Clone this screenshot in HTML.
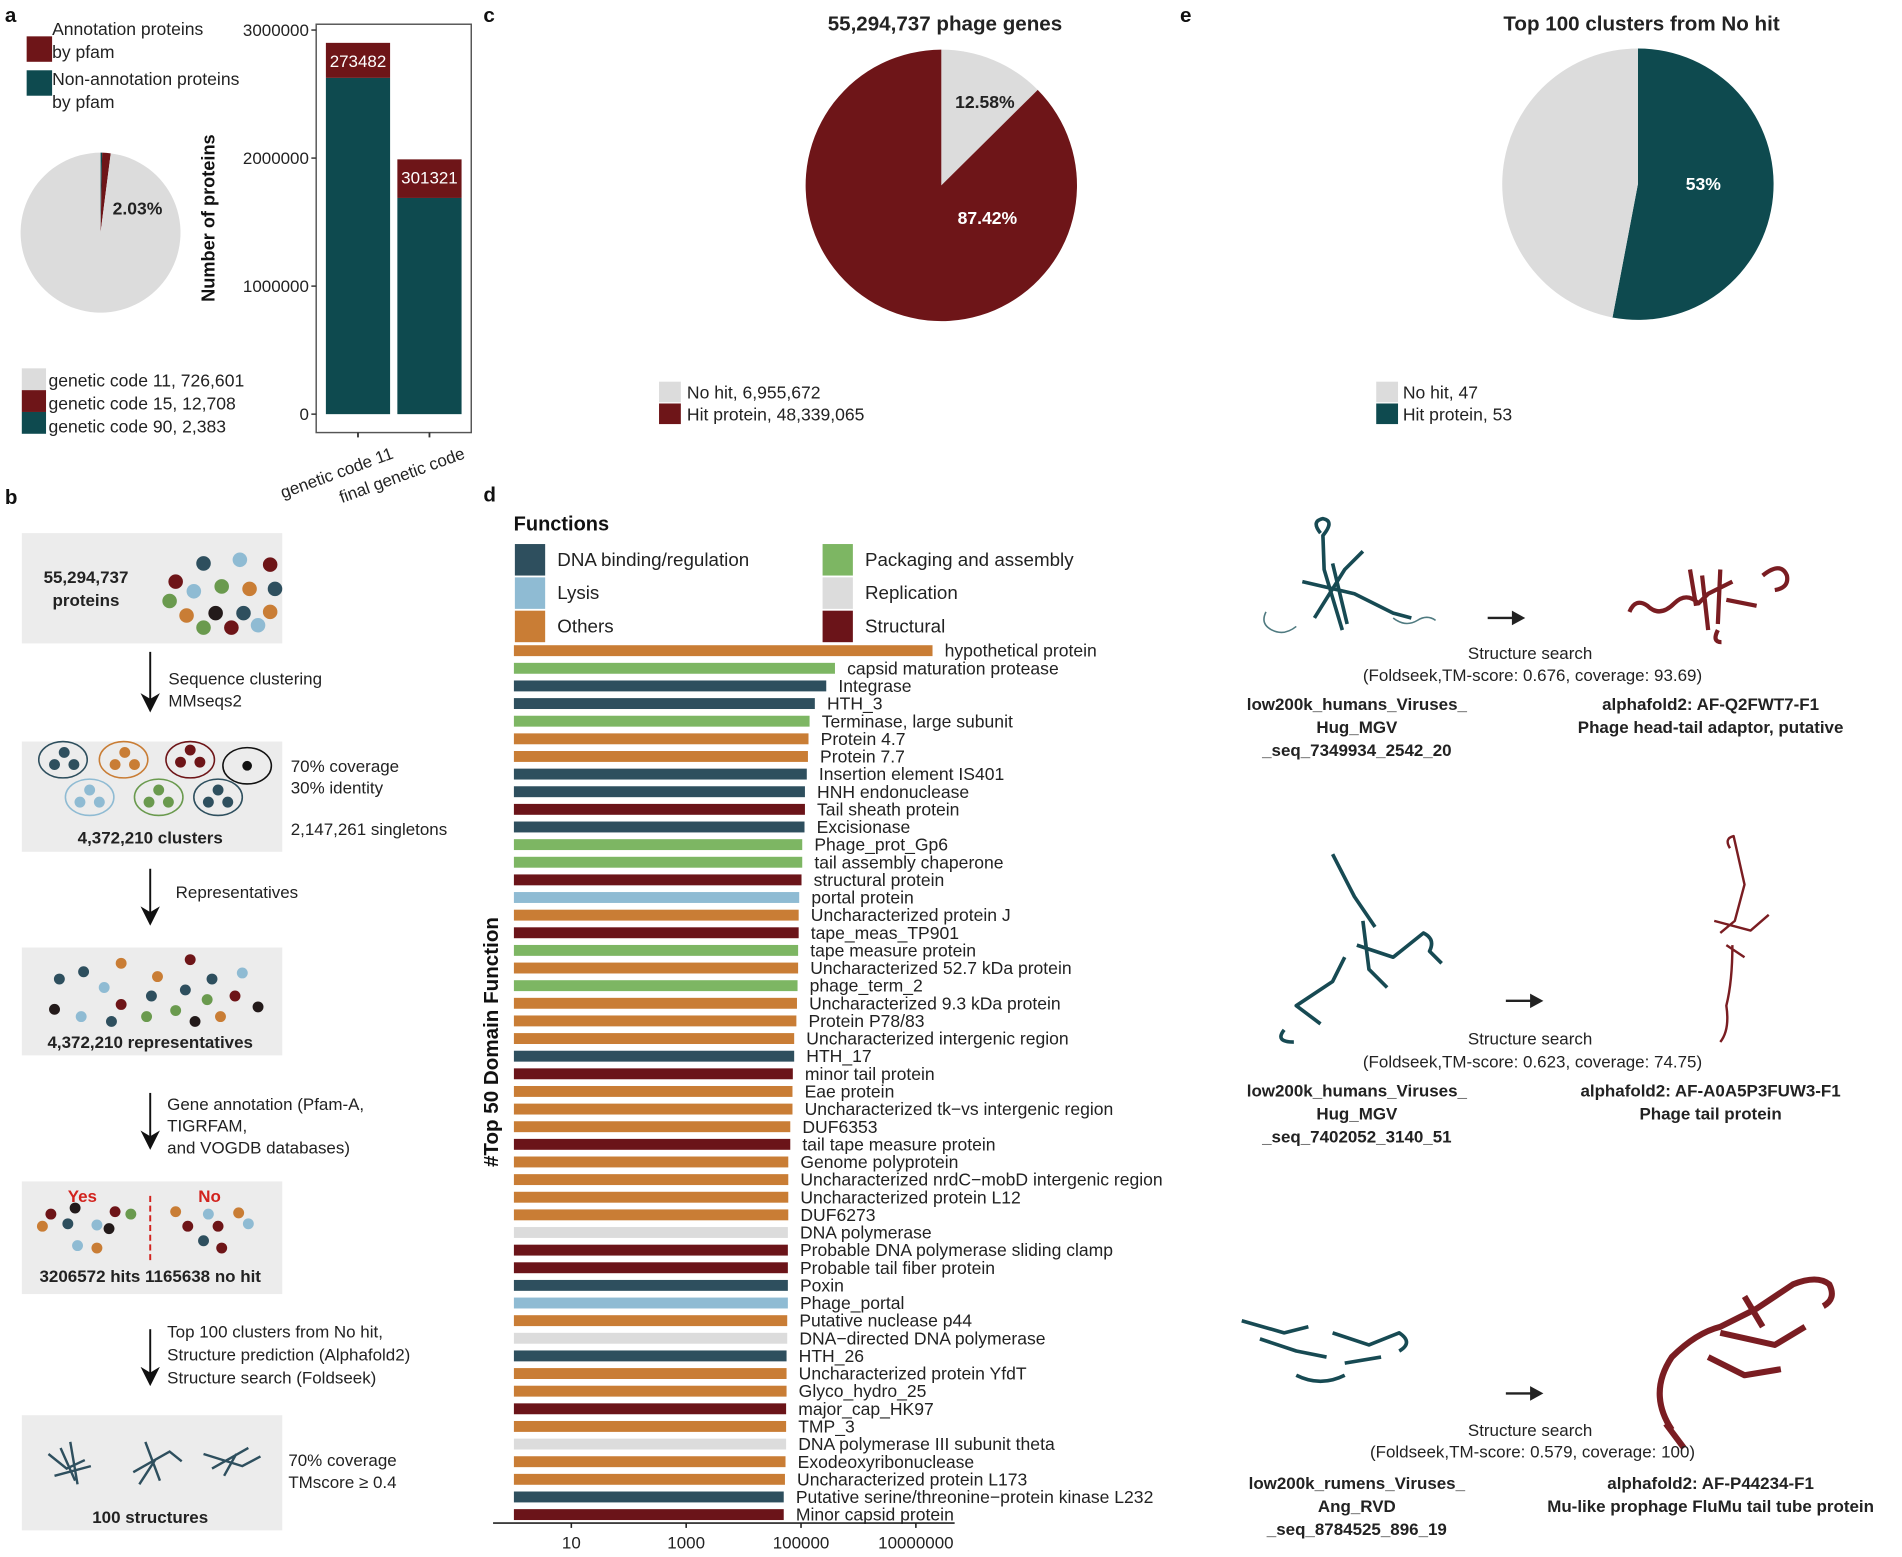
<!DOCTYPE html>
<html><head><meta charset="utf-8">
<style>
html,body{margin:0;padding:0;background:#fff;}
svg{display:block;font-family:"Liberation Sans",sans-serif;}
.n{font-family:"Liberation Sans Narrow","Liberation Sans",sans-serif;}
</style></head>
<body>
<svg id="fig" width="1902" height="1557" viewBox="0 0 1570 1285" preserveAspectRatio="none">
<rect width="1570" height="1285" fill="#fff"/>
<g font-weight="bold" font-size="17" fill="#111">
<text x="4" y="18">a</text>
<text x="4" y="416">b</text>
<text x="399" y="18">c</text>
<text x="399" y="414">d</text>
<text x="974" y="18">e</text>
</g>
<!-- panel a legends -->
<g font-size="14.5" fill="#222">
<rect x="22" y="30" width="21" height="21" fill="#6e1518"/>
<text x="43" y="29">Annotation proteins</text><text x="43" y="48">by pfam</text>
<rect x="22" y="78" width="21" height="21" fill="#0e4a4f" transform="translate(0,-20)"/>
<text x="43" y="70">Non-annotation proteins</text><text x="43" y="89">by pfam</text>
</g>
<g id="pieA"></g>
<text x="93" y="177" font-size="14.5" font-weight="bold" fill="#222">2.03%</text>
<g font-size="14.5" fill="#222">
<rect x="18" y="304" width="20" height="18" fill="#dcdcdc"/><text x="40" y="319">genetic code 11, 726,601</text>
<rect x="18" y="322" width="20" height="18" fill="#6e1518"/><text x="40" y="338">genetic code 15, 12,708</text>
<rect x="18" y="340" width="20" height="18" fill="#0e4a4f"/><text x="40" y="357">genetic code 90, 2,383</text>
</g>
<g id="barA"></g>
<text transform="translate(177,180) rotate(-90)" text-anchor="middle" font-size="15" font-weight="bold" fill="#111">Number of proteins</text>
<!-- panel c -->
<text x="780" y="25" text-anchor="middle" font-size="17" font-weight="bold" fill="#222">55,294,737 phage genes</text>
<g id="pieC"></g>
<g font-size="14.5" fill="#222">
<rect x="544" y="315" width="18" height="17" fill="#dcdcdc"/><text x="567" y="329">No hit, 6,955,672</text>
<rect x="544" y="333" width="18" height="17" fill="#6e1518"/><text x="567" y="347">Hit protein, 48,339,065</text>
</g>
<!-- panel e -->
<text x="1355" y="25" text-anchor="middle" font-size="17" font-weight="bold" fill="#222">Top 100 clusters from No hit</text>
<g id="pieE"></g>
<g font-size="14.5" fill="#222">
<rect x="1136" y="315" width="18" height="17" fill="#dcdcdc"/><text x="1158" y="329">No hit, 47</text>
<rect x="1136" y="333" width="18" height="17" fill="#0e4a4f"/><text x="1158" y="347">Hit protein, 53</text>
</g>
<!-- panel b flowchart -->
<g font-size="14" fill="#222">
<defs><marker id="ah" markerWidth="10" markerHeight="10" refX="5" refY="5" orient="auto"><path d="M0,0 L10,5 L0,10 L3,5 Z" fill="#111"/></marker></defs>
<rect x="18" y="440" width="215" height="91" fill="#ececec"/>
<text x="71" y="481" text-anchor="middle" font-weight="bold">55,294,737</text>
<text x="71" y="500" text-anchor="middle" font-weight="bold">proteins</text>
<g>
<circle cx="168" cy="465" r="6" fill="#2e4f5e"/><circle cx="198" cy="462" r="6" fill="#8fbbd3"/><circle cx="223" cy="466" r="6" fill="#6e1518"/>
<circle cx="145" cy="480" r="6" fill="#6e1518"/><circle cx="183" cy="484" r="6" fill="#6a9a4e"/><circle cx="206" cy="486" r="6" fill="#c97d35"/><circle cx="232" cy="486" r="6" fill="#2e4f5e" transform="translate(-5,0)"/>
<circle cx="160" cy="488" r="6" fill="#8fbbd3"/><circle cx="140" cy="496" r="6" fill="#6a9a4e"/>
<circle cx="154" cy="508" r="6" fill="#c97d35"/><circle cx="178" cy="506" r="6" fill="#231a1a"/><circle cx="201" cy="506" r="6" fill="#2e4f5e"/><circle cx="226" cy="505" r="6" fill="#c97d35" transform="translate(-3,0)"/>
<circle cx="168" cy="523" r="6" fill="#6a9a4e" transform="translate(0,-5)"/><circle cx="191" cy="518" r="6" fill="#6e1518"/><circle cx="213" cy="516" r="6" fill="#8fbbd3"/>
</g>
<line x1="124" y1="538" x2="124" y2="580" stroke="#111" stroke-width="1.6" marker-end="url(#ah)"/>
<text x="139" y="565">Sequence clustering</text><text x="139" y="583">MMseqs2</text>
<rect x="18" y="612" width="215" height="91" fill="#ececec"/>
<g fill="none" stroke-width="1.3">
<ellipse cx="52" cy="627" rx="20" ry="15" stroke="#2e4f5e"/><ellipse cx="102" cy="627" rx="20" ry="15" stroke="#c97d35"/><ellipse cx="157" cy="627" rx="20" ry="15" stroke="#6e1518"/><ellipse cx="204" cy="632" rx="20" ry="15" stroke="#111"/>
<ellipse cx="74" cy="658" rx="20" ry="15" stroke="#8fbbd3"/><ellipse cx="131" cy="658" rx="20" ry="15" stroke="#6a9a4e"/><ellipse cx="180" cy="658" rx="20" ry="15" stroke="#2e4f5e"/>
</g>
<g>
<circle cx="53" cy="621" r="4.5" fill="#2e4f5e"/><circle cx="45" cy="631" r="4.5" fill="#2e4f5e"/><circle cx="61" cy="631" r="4.5" fill="#2e4f5e"/>
<circle cx="103" cy="621" r="4.5" fill="#c97d35"/><circle cx="95" cy="631" r="4.5" fill="#c97d35"/><circle cx="111" cy="631" r="4.5" fill="#c97d35"/>
<circle cx="157" cy="619" r="4.5" fill="#6e1518"/><circle cx="149" cy="629" r="4.5" fill="#6e1518"/><circle cx="165" cy="629" r="4.5" fill="#6e1518"/>
<circle cx="204" cy="632" r="4" fill="#111"/>
<circle cx="74" cy="652" r="4.5" fill="#8fbbd3"/><circle cx="66" cy="662" r="4.5" fill="#8fbbd3"/><circle cx="82" cy="662" r="4.5" fill="#8fbbd3"/>
<circle cx="131" cy="652" r="4.5" fill="#6a9a4e"/><circle cx="123" cy="662" r="4.5" fill="#6a9a4e"/><circle cx="139" cy="662" r="4.5" fill="#6a9a4e"/>
<circle cx="180" cy="652" r="4.5" fill="#2e4f5e"/><circle cx="172" cy="662" r="4.5" fill="#2e4f5e"/><circle cx="188" cy="662" r="4.5" fill="#2e4f5e"/>
</g>
<text x="124" y="696" text-anchor="middle" font-weight="bold">4,372,210 clusters</text>
<text x="240" y="637">70% coverage</text><text x="240" y="655">30% identity</text><text x="240" y="689">2,147,261 singletons</text>
<line x1="124" y1="717" x2="124" y2="756" stroke="#111" stroke-width="1.6" marker-end="url(#ah)"/>
<text x="145" y="741">Representatives</text>
<rect x="18" y="782" width="215" height="89" fill="#ececec"/>
<g>
<circle cx="100" cy="795" r="4.5" fill="#c97d35"/><circle cx="157" cy="792" r="4.5" fill="#6e1518"/><circle cx="69" cy="802" r="4.5" fill="#2e4f5e"/><circle cx="200" cy="803" r="4.5" fill="#8fbbd3"/>
<circle cx="49" cy="808" r="4.5" fill="#2e4f5e"/><circle cx="130" cy="806" r="4.5" fill="#c97d35"/><circle cx="175" cy="808" r="4.5" fill="#2e4f5e"/><circle cx="86" cy="815" r="4.5" fill="#8fbbd3"/>
<circle cx="153" cy="817" r="4.5" fill="#2e4f5e"/><circle cx="125" cy="822" r="4.5" fill="#2e4f5e"/><circle cx="171" cy="825" r="4.5" fill="#6a9a4e"/><circle cx="194" cy="822" r="4.5" fill="#6e1518"/>
<circle cx="100" cy="829" r="4.5" fill="#6e1518"/><circle cx="45" cy="833" r="4.5" fill="#231a1a"/><circle cx="145" cy="834" r="4.5" fill="#6a9a4e"/><circle cx="213" cy="831" r="4.5" fill="#231a1a"/>
<circle cx="67" cy="839" r="4.5" fill="#8fbbd3"/><circle cx="121" cy="839" r="4.5" fill="#6a9a4e"/><circle cx="92" cy="843" r="4.5" fill="#2e4f5e"/><circle cx="161" cy="843" r="4.5" fill="#231a1a"/><circle cx="182" cy="839" r="4.5" fill="#c97d35"/>
</g>
<text x="124" y="865" text-anchor="middle" font-weight="bold">4,372,210 representatives</text>
<line x1="124" y1="902" x2="124" y2="941" stroke="#111" stroke-width="1.6" marker-end="url(#ah)"/>
<text x="138" y="916">Gene annotation (Pfam-A,</text><text x="138" y="934">TIGRFAM,</text><text x="138" y="952">and VOGDB databases)</text>
<rect x="18" y="975" width="215" height="93" fill="#ececec"/>
<text x="68" y="992" text-anchor="middle" font-weight="bold" fill="#d2231e">Yes</text>
<text x="173" y="992" text-anchor="middle" font-weight="bold" fill="#d2231e">No</text>
<line x1="124" y1="987" x2="124" y2="1042" stroke="#d2231e" stroke-width="1.6" stroke-dasharray="5,3"/>
<g>
<circle cx="42" cy="1002" r="4.5" fill="#6e1518"/><circle cx="62" cy="997" r="4.5" fill="#231a1a"/><circle cx="95" cy="1000" r="4.5" fill="#6e1518"/><circle cx="108" cy="1002" r="4.5" fill="#6a9a4e"/>
<circle cx="35" cy="1012" r="4.5" fill="#c97d35"/><circle cx="56" cy="1010" r="4.5" fill="#2e4f5e"/><circle cx="80" cy="1011" r="4.5" fill="#8fbbd3"/><circle cx="90" cy="1020" r="4.5" fill="#231a1a" transform="translate(0,-6)"/>
<circle cx="64" cy="1028" r="4.5" fill="#8fbbd3"/><circle cx="80" cy="1030" r="4.5" fill="#c97d35"/>
<circle cx="145" cy="1000" r="4.5" fill="#c97d35"/><circle cx="172" cy="1002" r="4.5" fill="#8fbbd3"/><circle cx="197" cy="1001" r="4.5" fill="#c97d35"/><circle cx="205" cy="1010" r="4.5" fill="#8fbbd3"/>
<circle cx="155" cy="1012" r="4.5" fill="#6e1518"/><circle cx="180" cy="1012" r="4.5" fill="#6e1518"/><circle cx="168" cy="1024" r="4.5" fill="#2e4f5e"/><circle cx="183" cy="1030" r="4.5" fill="#6e1518"/>
</g>
<text x="124" y="1058" text-anchor="middle" font-weight="bold">3206572 hits  1165638 no hit</text>
<line x1="124" y1="1097" x2="124" y2="1136" stroke="#111" stroke-width="1.6" marker-end="url(#ah)"/>
<text x="138" y="1104">Top 100 clusters from No hit,</text><text x="138" y="1123">Structure prediction (Alphafold2)</text><text x="138" y="1142">Structure search (Foldseek)</text>
<rect x="18" y="1168" width="215" height="95" fill="#ececec"/>
<g fill="none" stroke="#2e4f5e" stroke-width="2">
<path d="M40,1200 L55,1212 L70,1205 M50,1195 L62,1222 M45,1218 L75,1210 M58,1190 L64,1225"/>
<path d="M110,1215 L140,1198 L150,1206 M120,1190 L132,1222 M115,1225 L128,1205"/>
<path d="M168,1200 L200,1210 L215,1202 M175,1212 L205,1195 M185,1218 L195,1200"/>
</g>
<text x="124" y="1257" text-anchor="middle" font-weight="bold">100 structures</text>
<text x="238" y="1210">70% coverage</text><text x="238" y="1228">TMscore ≥ 0.4</text>
</g>
<!-- panel d -->
<text x="424" y="438" font-size="16.5" font-weight="bold" fill="#111">Functions</text>
<g id="legD"></g>
<g id="barD"></g>
<text transform="translate(411,860) rotate(-90)" text-anchor="middle" font-size="17" font-weight="bold" fill="#111">#Top 50 Domain Function</text>
<!-- structures -->
<g font-size="14" fill="#222">
<g fill="none" stroke="#174a53" stroke-width="3" stroke-linejoin="round">
<path d="M1090,440 q-8,-10 2,-12 q10,2 0,14 L1093,470 L1102,500 L1108,520 M1075,480 L1118,490 L1150,506 L1165,510 M1085,510 L1110,470 L1125,455 M1100,465 L1112,515" />
<path d="M1045,505 q-5,10 5,15 q10,5 20,-3 M1150,510 q10,8 20,2 q8,-5 15,0" stroke-width="1.3" stroke="#4f7a80"/>
<path d="M1110,790 L1100,810 L1070,830 L1090,845 M1120,780 L1150,790 L1175,770 q10,5 5,15 L1190,795 M1125,760 L1130,800 L1145,815 M1100,705 L1118,740 L1135,765 M1060,850 q-8,10 8,10"/>
<path d="M1025,1090 L1060,1100 L1080,1095 M1040,1105 L1070,1115 L1095,1120 M1100,1100 L1130,1110 L1155,1100 q12,8 0,15 M1110,1125 L1140,1120 M1070,1135 q20,10 40,0"/>
</g>
<g fill="none" stroke="#7a1d22" stroke-width="3.5" stroke-linejoin="round">
<path d="M1345,505 q5,-12 15,-5 q10,10 22,-2 q10,-10 20,0 L1410,490 L1430,480 M1405,475 L1410,520 M1420,470 L1418,515 M1425,495 L1450,500 M1455,475 q15,-12 20,0 q2,10 -10,12 M1395,470 L1400,500 M1418,520 q-5,10 3,10"/>
<path d="M1428,700 q-5,-8 3,-10 L1440,730 L1432,760 L1420,770 M1415,760 L1445,768 L1460,755 M1425,780 L1440,790 M1430,780 q0,30 -5,50 q3,20 -5,30" stroke-width="2"/>
<path d="M1380,1180 q-20,-30 0,-60 q20,-20 40,-25 L1450,1080 L1480,1060 q20,-8 30,0 q6,12 -5,18 M1420,1100 L1465,1110 L1490,1095 M1410,1120 L1440,1135 L1470,1130 M1440,1070 L1455,1095 M1375,1175 L1390,1195" stroke-width="5"/>
</g>
<g fill="#222">
<line x1="1228" y1="510" x2="1250" y2="510" stroke="#222" stroke-width="2"/><path d="M1248,504 L1259,510 L1248,516 Z"/>
<line x1="1243" y1="826" x2="1265" y2="826" stroke="#222" stroke-width="2"/><path d="M1263,820 L1274,826 L1263,832 Z"/>
<line x1="1243" y1="1150" x2="1265" y2="1150" stroke="#222" stroke-width="2"/><path d="M1263,1144 L1274,1150 L1263,1156 Z"/>
</g>
<g text-anchor="middle">
<text x="1263" y="544">Structure search</text><text x="1265" y="562">(Foldseek,TM-score: 0.676, coverage: 93.69)</text>
<text x="1263" y="862">Structure search</text><text x="1265" y="881">(Foldseek,TM-score: 0.623, coverage: 74.75)</text>
<text x="1263" y="1185">Structure search</text><text x="1265" y="1203">(Foldseek,TM-score: 0.579, coverage: 100)</text>
<g font-weight="bold">
<text x="1120" y="586">low200k_humans_Viruses_</text><text x="1120" y="605">Hug_MGV</text><text x="1120" y="624">_seq_7349934_2542_20</text>
<text x="1412" y="586">alphafold2: AF-Q2FWT7-F1</text><text x="1412" y="605">Phage head-tail adaptor, putative</text>
<text x="1120" y="905">low200k_humans_Viruses_</text><text x="1120" y="924">Hug_MGV</text><text x="1120" y="943">_seq_7402052_3140_51</text>
<text x="1412" y="905">alphafold2: AF-A0A5P3FUW3-F1</text><text x="1412" y="924">Phage tail protein</text>
<text x="1120" y="1229">low200k_rumens_Viruses_</text><text x="1120" y="1248">Ang_RVD</text><text x="1120" y="1267">_seq_8784525_896_19</text>
<text x="1412" y="1229">alphafold2: AF-P44234-F1</text><text x="1412" y="1248">Mu-like prophage FluMu tail tube protein</text>
</g></g>
</g>
</svg>
<script>
// ---- data ----
const pieACategories = ["genetic code 90", "genetic code 15", "genetic code 11"];
const pieAValues = [2383, 12708, 726601];
const pieCCategories = ["No hit", "Hit protein"];
const pieCValues = [6955672, 48339065];
const pieECategories = ["Hit protein", "No hit"];
const pieEValues = [53, 47];
const barACategories = ["genetic code 11", "final genetic code"];
const barAAnnotated = [273482, 301321];
const barANonAnnotated = [2626518, 1688679];
const barATicks = [0, 1000000, 2000000, 3000000];
const funcNames = ["hypothetical protein","capsid maturation protease","Integrase","HTH_3","Terminase, large subunit","Protein 4.7","Protein 7.7","Insertion element IS401","HNH endonuclease","Tail sheath protein","Excisionase","Phage_prot_Gp6","tail assembly chaperone","structural protein","portal protein","Uncharacterized protein J","tape_meas_TP901","tape measure protein","Uncharacterized 52.7 kDa protein","phage_term_2","Uncharacterized 9.3 kDa protein","Protein P78/83","Uncharacterized intergenic region","HTH_17","minor tail protein","Eae protein","Uncharacterized tk\u2212vs intergenic region","DUF6353","tail tape measure protein","Genome polyprotein","Uncharacterized nrdC\u2212mobD intergenic region","Uncharacterized protein L12","DUF6273","DNA polymerase","Probable DNA polymerase sliding clamp","Probable tail fiber protein","Poxin","Phage_portal","Putative nuclease p44","DNA\u2212directed DNA polymerase","HTH_26","Uncharacterized protein YfdT","Glyco_hydro_25","major_cap_HK97","TMP_3","DNA polymerase III subunit theta","Exodeoxyribonuclease","Uncharacterized protein L173","Putative serine/threonine\u2212protein kinase L232","Minor capsid protein"];
const funcGroups = ["Others","Packaging","DNA","DNA","Packaging","Others","Others","DNA","DNA","Structural","DNA","Packaging","Packaging","Structural","Lysis","Others","Structural","Packaging","Others","Packaging","Others","Others","Others","DNA","Structural","Others","Others","Others","Structural","Others","Others","Others","Others","Replication","Structural","Structural","DNA","Lysis","Others","Replication","DNA","Others","Others","Structural","Others","Replication","Others","Others","DNA","Structural"];
const funcCounts = [19500000,390000,275000,174000,141000,135000,132000,126000,117000,117000,115000,105000,105000,102000,93000,91000,91000,89000,89000,87000,85000,83000,76000,76000,72000,71000,71000,65000,65000,60000,60000,60000,60000,59000,59000,59000,59000,59000,57500,57500,56000,56000,56000,55000,55000,55000,53700,52500,50000,50000];
const funcTicks = [10, 1000, 100000, 10000000];
const legendGroups = ["DNA","Lysis","Others","Packaging","Replication","Structural"];
const legendLabels = ["DNA binding/regulation","Lysis","Others","Packaging and assembly","Replication","Structural"];

const NS = "http://www.w3.org/2000/svg";
const groupColor = {DNA:"#2e4f5e",Lysis:"#8fbbd3",Others:"#c97d35",Packaging:"#7db663",Replication:"#dcdcdc",Structural:"#6b1419"};
function mk(tag, attrs, parent){const e=document.createElementNS(NS,tag);for(const k in attrs)e.setAttribute(k,attrs[k]);parent.appendChild(e);return e;}
function arcPath(cx,cy,r,a0,a1){
  if(a1-a0>=Math.PI*2-1e-6){return `M${cx},${cy-r} A${r},${r} 0 1 1 ${cx-0.01},${cy-r} Z`;}
  const x0=cx+r*Math.sin(a0),y0=cy-r*Math.cos(a0),x1=cx+r*Math.sin(a1),y1=cy-r*Math.cos(a1);
  return `M${cx},${cy} L${x0},${y0} A${r},${r} 0 ${a1-a0>Math.PI?1:0} 1 ${x1},${y1} Z`;
}
function drawPie(gid,cats,vals,colors,cx,cy,r){
  const g=document.getElementById(gid);const tot=vals.reduce((a,b)=>a+b,0);let a=0;
  vals.forEach((v,i)=>{const a1=a+v/tot*Math.PI*2;
    const p=mk("path",{d:arcPath(cx,cy,r,a,a1),fill:colors[i]},g);
    
    
    a=a1;});
}
drawPie("pieA",pieACategories,pieAValues,["#0e4a4f","#6e1518","#dcdcdc"],83,192,66);
drawPie("pieC",pieCCategories,pieCValues,["#dcdcdc","#6e1518"],777,153,112);
drawPie("pieE",pieECategories,pieEValues,["#0e4a4f","#dcdcdc"],1352,152,112);
(function(){
  const tC=pieCValues[0]+pieCValues[1];
  const gC=document.getElementById("pieC");
  const l1=mk("text",{x:813,y:89,"text-anchor":"middle","font-size":"14.5","font-weight":"bold",fill:"#222"},gC);
  l1.textContent=(pieCValues[0]/tC*100).toFixed(2)+"%";
  
  
  const l2=mk("text",{x:815,y:185,"text-anchor":"middle","font-size":"14.5","font-weight":"bold",fill:"#fff"},gC);
  l2.textContent=(pieCValues[1]/tC*100).toFixed(2)+"%";
  
  
  const tE=pieEValues[0]+pieEValues[1];
  const gE=document.getElementById("pieE");
  const l3=mk("text",{x:1406,y:157,"text-anchor":"middle","font-size":"14.5","font-weight":"bold",fill:"#fff"},gE);
  l3.textContent=Math.round(pieEValues[0]/tE*100)+"%";
  
  
})();
// bar chart a
(function(){
  const g=document.getElementById("barA");
  const y0=341.8, ph=317, vmax=3000000;
  const y=v=>y0-v/vmax*ph;
  const frame=mk("rect",{x:261,y:20,width:128,height:337,fill:"none",stroke:"#555","stroke-width":1.2},g);
  
  
  barATicks.forEach(t=>{
    mk("line",{x1:257,x2:261,y1:y(t),y2:y(t),stroke:"#333","stroke-width":1.2},g);
    const tx=mk("text",{x:255,y:y(t)+5,"text-anchor":"end","font-size":"14",fill:"#222"},g);
    tx.textContent=String(t);
    
    
  });
  const xs=[269,328], bw=53;
  barACategories.forEach((c,i)=>{
    const nb=mk("rect",{x:xs[i],y:y(barANonAnnotated[i]),width:bw,height:y0-y(barANonAnnotated[i]),fill:"#0e4a4f"},g);
    
    
    const top=barANonAnnotated[i]+barAAnnotated[i];
    const ab=mk("rect",{x:xs[i],y:y(top),width:bw,height:y(barANonAnnotated[i])-y(top),fill:"#6e1518"},g);
    
    
    const lb=mk("text",{x:xs[i]+bw/2,y:y(top)+20,"text-anchor":"middle","font-size":"14",fill:"#fff"},g);
    lb.textContent=String(barAAnnotated[i]);
    
    
    const cx=xs[i]+bw/2;
    mk("line",{x1:cx,x2:cx,y1:357,y2:361,stroke:"#333","stroke-width":1.5},g);
    const xl=mk("text",{x:cx+30,y:378,"text-anchor":"end","font-size":"14",fill:"#222",transform:`rotate(-20 ${cx+30} 378)`},g);
    xl.textContent=c;
    
    
  });
})();
// legend d
(function(){
  const g=document.getElementById("legD");
  legendGroups.forEach((k,i)=>{
    const col=Math.floor(i/3), row=i%3;
    const x=col?679:425, yy=449+row*27.5;
    const r=mk("rect",{x:x,y:yy,width:25,height:26,fill:groupColor[k]},g);
    
    
    const t=mk("text",{x:x+35,y:yy+18,"font-size":"15.5",fill:"#222",class:"n"},g);
    t.textContent=legendLabels[i];
    
    
  });
})();
// bar chart d
(function(){
  const g=document.getElementById("barD");
  const x=v=>424.2+Math.log10(v)*47.4;
  const yTop=537, step=(1250-537)/49, bh=9;
  funcNames.forEach((n,i)=>{
    const yc=yTop+i*step;
    const b=mk("rect",{x:x(1),y:yc-bh/2,width:x(funcCounts[i])-x(1),height:bh,fill:groupColor[funcGroups[i]]},g);
    
    
    const t=mk("text",{x:x(funcCounts[i])+10,y:yc+5,"font-size":"14.5",fill:"#222",class:"n"},g);
    t.textContent=n;
    
    
  });
  mk("line",{x1:407,x2:788,y1:1257,y2:1257,stroke:"#222","stroke-width":1.3},g);
  funcTicks.forEach(t=>{
    mk("line",{x1:x(t),x2:x(t),y1:1257,y2:1261,stroke:"#222","stroke-width":1.3},g);
    const tx=mk("text",{x:x(t),y:1278,"text-anchor":"middle","font-size":"14",fill:"#222",class:"n"},g);
    tx.textContent=String(t);
    
    
  });
})();
</script>
</body></html>
